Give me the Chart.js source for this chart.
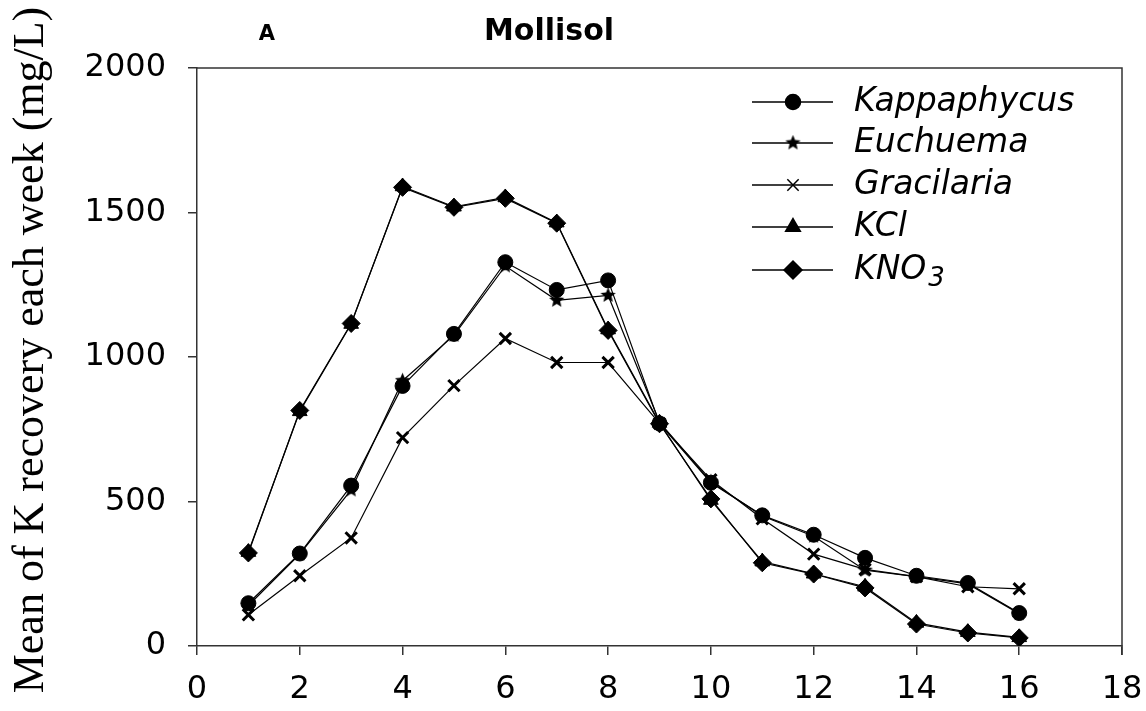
<!DOCTYPE html>
<html>
<head>
<meta charset="utf-8">
<script src="https://cdn.jsdelivr.net/npm/chart.js@4.4.0/dist/chart.umd.min.js"></script>
<style>
  html, body { margin: 0; padding: 0; background: #fff; }
  #wrap { width: 1146px; height: 711px; }
</style>
</head>
<body>
<div id="wrap"><canvas id="chart" width="1146" height="711"></canvas></div>
<script>
// ─────────────────────────────────────────────────
// Data
// ─────────────────────────────────────────────────
const weeks = [1, 2, 3, 4, 5, 6, 7, 8, 9, 10, 11, 12, 13, 14, 15, 16];
const kappaphycus = [148, 320, 555, 900, 1080, 1328, 1232, 1265, 770, 565, 452, 385, 305, 243, 218, 114];
const euchuema    = [140, 318, 540, 918, 1075, 1315, 1196, 1213, 775, 568, 450, 380, 262, 240, 215, 112];
const gracilaria  = [108, 243, 374, 721, 901, 1064, 981, 981, 770, 575, 440, 318, 265, 240, 205, 198];
const kcl         = [325, 812, 1114, 1590, 1520, 1552, 1465, 1095, 772, 505, 292, 250, 205, 80, 48, 30];
const kno3        = [322, 815, 1116, 1587, 1518, 1549, 1463, 1092, 769, 509, 288, 249, 201, 76, 45, 28];
const seriesNames = ['Kappaphycus', 'Euchuema', 'Gracilaria', 'KCl', 'KNO3'];
const xTicks = [0, 2, 4, 6, 8, 10, 12, 14, 16, 18];
const yTicks = [0, 500, 1000, 1500, 2000];

// filled five-point star used as a point style
function makeStar(size) {
    const c = document.createElement('canvas');
    c.width = size; c.height = size;
    const g = c.getContext('2d');
    const cx = size / 2, cy = size / 2, ro = size / 2 - 0.5, ri = ro * 0.45;
    g.beginPath();
    for (let i = 0; i < 10; i++) {
        const r = i % 2 ? ri : ro;
        const a = -Math.PI / 2 + i * Math.PI / 5;
        g.lineTo(cx + r * Math.cos(a), cy + r * Math.sin(a));
    }
    g.closePath(); g.fillStyle = '#000'; g.fill();
    return c;
}
const starImg = makeStar(17);

const styles = [
    { pointStyle: 'circle', radius: 7.5, bw: 1 },
    { pointStyle: starImg, radius: 8, bw: 1 },
    { pointStyle: 'crossRot', radius: 8, bw: 3 },
    { pointStyle: 'triangle', radius: 8.5, bw: 1 },
    { pointStyle: 'rectRot', radius: 9, bw: 1 },
];
const values = [kappaphycus, euchuema, gracilaria, kcl, kno3];

const datasets = seriesNames.map((name, i) => ({
    label: name,
    data: weeks.map((w, j) => ({ x: w, y: values[i][j] })),
    borderColor: '#000', backgroundColor: '#000',
    borderWidth: 1.2, tension: 0,
    pointStyle: styles[i].pointStyle,
    pointRadius: styles[i].radius, pointHoverRadius: styles[i].radius,
    pointBorderWidth: styles[i].bw,
    pointBackgroundColor: '#000', pointBorderColor: '#000',
}));

// ─────────────────────────────────────────────────
// Frame, titles and legend
// ─────────────────────────────────────────────────
const decor = {
    id: 'decor',
    afterDraw(chart) {
        const ctx = chart.ctx;
        const a = chart.chartArea;
        ctx.save();

        // box round the plot
        ctx.strokeStyle = '#333'; ctx.lineWidth = 1.5;
        ctx.beginPath();
        ctx.moveTo(a.left, a.top); ctx.lineTo(a.right, a.top); ctx.lineTo(a.right, a.bottom + 9);
        ctx.stroke();

        // titles
        ctx.fillStyle = '#000';
        ctx.textBaseline = 'alphabetic'; ctx.textAlign = 'center';
        ctx.font = 'bold 30px "DejaVu Sans"';
        ctx.fillText('Mollisol', 549, 40);
        ctx.font = 'bold 21px "DejaVu Sans"';
        ctx.fillText('A', 267, 40);

        // y axis title
        ctx.save();
        ctx.translate(43, 350);
        ctx.rotate(-Math.PI / 2);
        ctx.font = '44px "Liberation Serif"';
        ctx.fillText('Mean of K recovery each week (mg/L)', 0, 0);
        ctx.restore();

        // legend
        const rows = [102, 143, 185, 227, 270];
        chart.data.datasets.forEach((ds, i) => {
            const y = rows[i];
            ctx.strokeStyle = '#000'; ctx.lineWidth = 1.5;
            ctx.beginPath(); ctx.moveTo(752, y); ctx.lineTo(833, y); ctx.stroke();
            Chart.helpers.drawPoint(ctx, {
                pointStyle: ds.pointStyle, radius: ds.pointRadius,
                borderWidth: ds.pointBorderWidth, rotation: 0
            }, 793, y);
            ctx.fillStyle = '#000'; ctx.strokeStyle = '#000';
            ctx.textAlign = 'left'; ctx.textBaseline = 'middle';
            ctx.font = 'oblique 33px "DejaVu Sans"';
            if (ds.label === 'KNO3') {
                ctx.fillText('KNO', 854, y);
                const w = ctx.measureText('KNO').width;
                ctx.font = 'oblique 26px "DejaVu Sans"';
                ctx.fillText('3', 854 + w + 2, y + 9);
            } else {
                ctx.fillText(ds.label, 854, y);
            }
        });
        ctx.restore();
    }
};

const ctx = document.getElementById('chart').getContext('2d');
new Chart(ctx, {
    type: 'line',
    data: { datasets },
    plugins: [decor],
    options: {
        responsive: false, animation: false,
        layout: { padding: { top: 68, right: 24, left: 0, bottom: 0 } },
        plugins: { legend: { display: false }, tooltip: { enabled: false } },
        scales: {
            x: {
                type: 'linear', min: 0, max: 18,
                afterFit: (s) => { s.height = 65; s.paddingLeft = 0; s.paddingRight = 0; },
                afterBuildTicks: (s) => { s.ticks = xTicks.map(v => ({ value: v })); },
                grid: { display: true, drawOnChartArea: false, drawTicks: true, tickLength: 9, color: '#333', lineWidth: 1.5 },
                border: { display: true, color: '#333', width: 1.5 },
                ticks: { color: '#000', font: { size: 32, family: '"DejaVu Sans"' }, padding: 15, maxRotation: 0,
                    callback: (v) => String(v) }
            },
            y: {
                min: 0, max: 2000,
                afterFit: (s) => { s.width = 197; s.paddingTop = 0; s.paddingBottom = 0; },
                afterBuildTicks: (s) => { s.ticks = yTicks.map(v => ({ value: v })); },
                grid: { display: true, drawOnChartArea: false, drawTicks: true, tickLength: 9, color: '#333', lineWidth: 1.5 },
                border: { display: true, color: '#333', width: 1.5 },
                ticks: { color: '#000', font: { size: 32, family: '"DejaVu Sans"' }, padding: 22,
                    callback: (v) => String(v) }
            }
        }
    }
});
</script>
</body>
</html>
